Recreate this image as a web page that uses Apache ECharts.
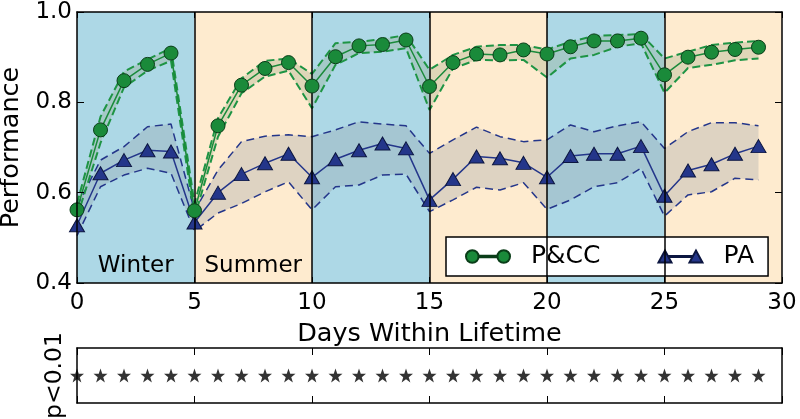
<!DOCTYPE html>
<html>
<head>
<meta charset="utf-8">
<script src="https://cdn.jsdelivr.net/npm/echarts@6/dist/echarts.min.js"></script>
<style>
html,body{margin:0;padding:0;background:#fff;}
#chart{width:800px;height:419px;}
</style>
</head>
<body>
<div id="chart"></div>
<script>
const days = [0,1,2,3,4,5,6,7,8,9,10,11,12,13,14,15,16,17,18,19,20,21,22,23,24,25,26,27,28,29];
const pccMean  = [0.562,0.739,0.848,0.884,0.909,0.560,0.748,0.838,0.875,0.888,0.836,0.901,0.925,0.928,0.938,0.835,0.888,0.907,0.905,0.916,0.907,0.923,0.936,0.936,0.942,0.861,0.900,0.911,0.917,0.922];
const pccUpper = [0.576,0.768,0.868,0.895,0.920,0.576,0.765,0.853,0.892,0.897,0.863,0.931,0.934,0.940,0.949,0.872,0.905,0.923,0.927,0.927,0.917,0.934,0.947,0.949,0.951,0.897,0.912,0.927,0.932,0.936];
const pccLower = [0.546,0.710,0.833,0.870,0.892,0.545,0.724,0.820,0.857,0.870,0.787,0.883,0.909,0.912,0.920,0.783,0.875,0.894,0.893,0.894,0.855,0.897,0.905,0.923,0.931,0.821,0.876,0.883,0.893,0.897];
const paMean   = [0.528,0.643,0.672,0.694,0.691,0.534,0.600,0.641,0.665,0.686,0.634,0.674,0.694,0.709,0.698,0.584,0.630,0.680,0.676,0.666,0.634,0.681,0.686,0.686,0.703,0.593,0.649,0.663,0.686,0.703];
const paUpper  = [0.570,0.672,0.702,0.746,0.752,0.560,0.650,0.713,0.725,0.728,0.724,0.739,0.757,0.752,0.748,0.687,0.717,0.745,0.724,0.713,0.717,0.750,0.735,0.748,0.757,0.698,0.735,0.755,0.755,0.748];
const paLower  = [0.505,0.613,0.639,0.654,0.643,0.515,0.555,0.576,0.602,0.624,0.562,0.613,0.617,0.639,0.641,0.558,0.584,0.612,0.606,0.622,0.563,0.584,0.613,0.622,0.654,0.548,0.595,0.602,0.632,0.628];
const sigDays  = [0,1,2,3,4,5,6,7,8,9,10,11,12,13,14,15,16,17,18,19,20,21,22,23,24,25,26,27,28,29];
const seasons  = ['Winter','Summer','Winter','Summer','Winter','Summer'];
const seasonStarts = [0,5,10,15,20,25];
const seasonLabelShown = [true,true,false,false,false,false];
const yTicks = [0.4,0.6,0.8,1.0];

const FONT = 'DejaVu Sans';
const WINTER = '#ADD8E6', SUMMER = '#FEEBCF';
const GREEN = '#1a8a3a', GREEN_DASH = '#1e9444', BLUE = '#24368a';

const pairs = (ys) => days.map((d,i)=>[d, ys[i]]);

const chart = echarts.init(document.getElementById('chart'), null, {renderer:'canvas'});

const areas = seasons.map((s,i)=>[
  {xAxis: seasonStarts[i], name: s,
   itemStyle:{color: s==='Winter'?WINTER:SUMMER, opacity:1},
   label:{show: seasonLabelShown[i], position:'insideBottom', distance:5, fontFamily:FONT, fontSize:23, color:'#000'}},
  {xAxis: seasonStarts[i]+5}
]);

function bandRender(lo, hi, fill){
  return function(params, api){
    if (params.dataIndex !== 0) return null;
    const top = days.map((d,i)=>api.coord([d, hi[i]]));
    const bot = days.map((d,i)=>api.coord([d, lo[i]])).reverse();
    return {type:'polygon', shape:{points: top.concat(bot)}, style:{fill: fill}, silent:true};
  };
}

const starPath = 'path://M50,0L62,35L98,35L69,57L80,92L50,71L20,92L31,57L2,35L38,35Z';
const circIcon = 'path://M1,7A6,6 0 1,1 13,7A6,6 0 1,1 1,7ZM13,6.4L31,6.4L31,7.6L13,7.6ZM31,7A6,6 0 1,1 43,7A6,6 0 1,1 31,7Z';
const triIcon = 'path://M0,13L6.5,1L13,13ZM11,6.4L33,6.4L33,7.6L11,7.6ZM31,13L37.5,1L44,13Z';

const option = {
  animation:false,
  backgroundColor:'#fff',
  textStyle:{fontFamily:FONT},
  grid:[
    {left:77, top:12, width:705, height:271, outerBoundsMode:'none', containLabel:false},
    {left:77, top:348, width:705, height:55, outerBoundsMode:'none', containLabel:false}
  ],
  xAxis:[
    {gridIndex:0, type:'value', min:0, max:30, interval:5, position:'bottom', z:10,
     axisLine:{show:true, onZero:false, lineStyle:{color:'#000', width:1.5}},
     axisTick:{show:true, inside:true, length:6, lineStyle:{color:'#000'}},
     axisLabel:{fontFamily:FONT, fontSize:23, color:'#000', margin:9},
     splitLine:{show:false},
     name:'Days Within Lifetime', nameLocation:'middle', nameGap:38,
     nameTextStyle:{fontFamily:FONT, fontSize:25.5, color:'#000'}},
    {gridIndex:0, type:'value', min:0, max:30, interval:5, position:'top', z:10,
     axisLine:{show:true, onZero:false, lineStyle:{color:'#000', width:1.5}},
     axisTick:{show:true, inside:true, length:6, lineStyle:{color:'#000'}},
     axisLabel:{show:false}, splitLine:{show:false}},
    {gridIndex:1, type:'value', min:0, max:30, interval:5, position:'bottom', z:10,
     axisLine:{show:true, onZero:false, lineStyle:{color:'#000', width:1.5}},
     axisTick:{show:true, inside:true, length:7, lineStyle:{color:'#000'}},
     axisLabel:{show:false}, splitLine:{show:false}},
    {gridIndex:1, type:'value', min:0, max:30, interval:5, position:'top', z:10,
     axisLine:{show:true, onZero:false, lineStyle:{color:'#000', width:1.5}},
     axisTick:{show:true, inside:true, length:7, lineStyle:{color:'#000'}},
     axisLabel:{show:false}, splitLine:{show:false}}
  ],
  yAxis:[
    {gridIndex:0, type:'value', min:yTicks[0], max:yTicks[yTicks.length-1], interval:0.2, position:'left', z:10,
     axisLine:{show:true, onZero:false, lineStyle:{color:'#000', width:1.5}},
     axisTick:{show:true, inside:true, length:7, lineStyle:{color:'#000'}},
     axisLabel:{fontFamily:FONT, fontSize:23, color:'#000', margin:5, formatter:(v)=>v.toFixed(1)},
     splitLine:{show:false},
     name:'Performance', nameLocation:'middle', nameGap:52, nameRotate:90,
     nameTextStyle:{fontFamily:FONT, fontSize:25.5, color:'#000'}},
    {gridIndex:0, type:'value', min:yTicks[0], max:yTicks[yTicks.length-1], interval:0.2, position:'right', z:10,
     axisLine:{show:true, onZero:false, lineStyle:{color:'#000', width:1.5}},
     axisTick:{show:true, inside:true, length:7, lineStyle:{color:'#000'}},
     axisLabel:{show:false}, splitLine:{show:false}},
    {gridIndex:1, type:'value', min:0, max:1, position:'left', z:10,
     axisLine:{show:true, onZero:false, lineStyle:{color:'#000', width:1.5}},
     axisTick:{show:false}, axisLabel:{show:false}, splitLine:{show:false},
     name:'p<0.01', nameLocation:'middle', nameGap:10, nameRotate:90,
     nameTextStyle:{fontFamily:FONT, fontSize:23.5, color:'#000'}},
    {gridIndex:1, type:'value', min:0, max:1, position:'right', z:10,
     axisLine:{show:true, onZero:false, lineStyle:{color:'#000', width:1.5}},
     axisTick:{show:false}, axisLabel:{show:false}, splitLine:{show:false}}
  ],
  legend:{
    left:446, top:237, orient:'horizontal',
    backgroundColor:'#fff', borderColor:'#000', borderWidth:1.5, borderRadius:0,
    padding:[7,14,7,19], itemGap:57, itemWidth:44, itemHeight:13,
    textStyle:{fontFamily:FONT, fontSize:25, color:'#000', padding:[0,0,0,16]},
    data:[{name:'P&CC', icon:circIcon},{name:'PA', icon:triIcon}],
    selectedMode:false
  },
  series:[
    {name:'bg', type:'line', xAxisIndex:0, yAxisIndex:0, data:[], z:1, silent:true,
     markArea:{silent:true, data:areas},
     markLine:{silent:true, symbol:['none','none'], label:{show:false},
       lineStyle:{color:'#000', type:'solid', width:1.5},
       data:seasonStarts.slice(1).map(x=>({xAxis:x}))}},
    {name:'paBand', type:'custom', xAxisIndex:0, yAxisIndex:0, z:2, silent:true,
     data:days.map((d,i)=>[d, paLower[i], paUpper[i]]), encode:{x:0, y:[1,2]},
     renderItem:bandRender(paLower, paUpper, 'rgba(150,155,165,0.3)')},
    {name:'pccBand', type:'custom', xAxisIndex:0, yAxisIndex:0, z:2, silent:true,
     data:days.map((d,i)=>[d, pccLower[i], pccUpper[i]]), encode:{x:0, y:[1,2]},
     renderItem:bandRender(pccLower, pccUpper, 'rgba(150,165,130,0.3)')},
    {name:'paUp', type:'line', xAxisIndex:0, yAxisIndex:0, data:pairs(paUpper), symbol:'none', z:3,
     lineStyle:{color:BLUE, width:1.5, type:[8,5]}},
    {name:'paLow', type:'line', xAxisIndex:0, yAxisIndex:0, data:pairs(paLower), symbol:'none', z:3,
     lineStyle:{color:BLUE, width:1.5, type:[8,5]}},
    {name:'pccUp', type:'line', xAxisIndex:0, yAxisIndex:0, data:pairs(pccUpper), symbol:'none', z:3,
     lineStyle:{color:GREEN_DASH, width:2, type:[8,4]}},
    {name:'pccLow', type:'line', xAxisIndex:0, yAxisIndex:0, data:pairs(pccLower), symbol:'none', z:3,
     lineStyle:{color:GREEN_DASH, width:2, type:[8,4]}},
    {name:'PA', type:'line', xAxisIndex:0, yAxisIndex:0, data:pairs(paMean), z:4,
     symbol:'triangle', symbolSize:[15,13],
     lineStyle:{color:BLUE, width:1.5},
     itemStyle:{color:BLUE, borderColor:'#0c1640', borderWidth:1}},
    {name:'P&CC', type:'line', xAxisIndex:0, yAxisIndex:0, data:pairs(pccMean), z:5,
     symbol:'circle', symbolSize:14,
     lineStyle:{color:GREEN, width:1.5},
     itemStyle:{color:GREEN, borderColor:'#0a3d18', borderWidth:1}},
    {name:'sig', type:'scatter', xAxisIndex:2, yAxisIndex:2, data:sigDays.map(d=>[d,0.5]),
     symbol:starPath, symbolSize:14, itemStyle:{color:'#000'}, z:5}
  ]
};
chart.setOption(option);
</script>
</body>
</html>
